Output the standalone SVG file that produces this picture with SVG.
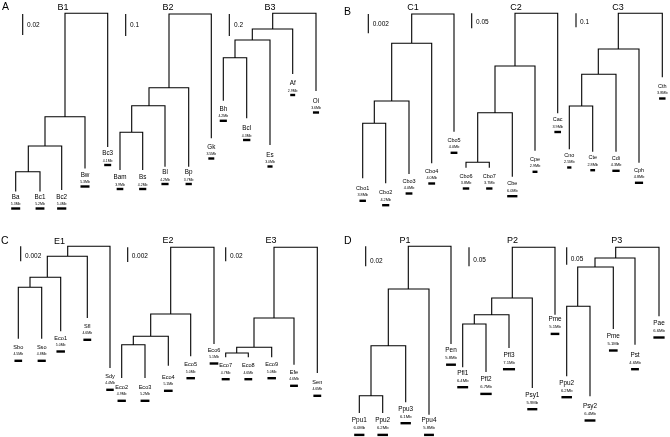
<svg xmlns="http://www.w3.org/2000/svg" width="670" height="437" viewBox="0 0 670 437">
<defs>
<filter id="gray" filterUnits="userSpaceOnUse" x="0" y="0" width="670" height="437" color-interpolation-filters="sRGB">
<feColorMatrix type="saturate" values="0"/>
</filter>
</defs>
<style>
text{font-family:"Liberation Sans",Arial,Helvetica,sans-serif;fill:#000}
.ln{fill:none;stroke:#000;stroke-width:1.1}
.sb{fill:none;stroke:#000;stroke-width:1.1}
.bar{fill:#000}
.pl{font-size:10.5px}
.tt{font-size:9px;text-anchor:middle}
.sl{font-size:6.5px}
.la{font-size:6.3px;text-anchor:middle}
.lb{font-size:5.5px;text-anchor:middle}
.lc{font-size:5.6px;text-anchor:middle}
.ld{font-size:6.4px;text-anchor:middle}
.sa{font-size:3.5px;text-anchor:middle}
.sbz{font-size:3.8px;text-anchor:middle}
.sc{font-size:3.5px;text-anchor:middle}
.sd{font-size:4.2px;text-anchor:middle}
</style>
<rect width="670" height="437" fill="#fff"/>
<g id="diagram" filter="url(#gray)">
<rect width="670" height="437" fill="#fff"/>
<g id="panel-labels">
<text class="pl" x="2" y="10">A</text>
<text class="pl" x="344" y="15">B</text>
<text class="pl" x="1" y="244">C</text>
<text class="pl" x="344" y="244">D</text>
</g>
<g id="titles">
<text class="tt" x="63" y="10">B1</text>
<text class="tt" x="168" y="10">B2</text>
<text class="tt" x="270" y="10">B3</text>
<text class="tt" x="413" y="10">C1</text>
<text class="tt" x="516" y="10">C2</text>
<text class="tt" x="618" y="10">C3</text>
<text class="tt" x="59.5" y="244">E1</text>
<text class="tt" x="168" y="243">E2</text>
<text class="tt" x="271" y="243">E3</text>
<text class="tt" x="405" y="243">P1</text>
<text class="tt" x="512.5" y="243">P2</text>
<text class="tt" x="616.7" y="243">P3</text>
</g>
<g id="scale-bars">
<path class="sb" d="M22.7,14V35M125.7,14V36M229.3,14V36M368.3,14V33.3M471.7,13.3V28.3M576,13.3V27.3M20.7,246.3V261.3M127.7,247.3V262M225.7,247.3V261.3M365.7,246.3V266.3M469,247.3V266.3M566.7,247.3V264.7"/>
<text class="sl" x="27" y="27">0.02</text>
<text class="sl" x="130" y="27">0.1</text>
<text class="sl" x="234" y="27">0.2</text>
<text class="sl" x="372.7" y="26">0.002</text>
<text class="sl" x="476" y="24">0.05</text>
<text class="sl" x="580" y="24">0.1</text>
<text class="sl" x="25" y="258">0.002</text>
<text class="sl" x="131.7" y="258">0.002</text>
<text class="sl" x="230" y="258">0.02</text>
<text class="sl" x="370" y="263">0.02</text>
<text class="sl" x="473.3" y="261.5">0.05</text>
<text class="sl" x="570.7" y="260.5">0.05</text>
</g>
<g id="connectors" class="ln">
<path d="M15.7,191.5V171.7H40V191.5M28.3,171.7V146H61.7V190M45,146V116.7H85V168.5M65,116.7V13.3H107.7V147"/>
<path d="M120,170V132.3H142.7V170M131.7,132.3V105.7H165V166.7M149,105.7V87.7H188.7V166.7M169,87.7V14H211.3V138.3"/>
<path d="M223.3,100.7V57.7H246.7V118.3M235,57.7V40H270V145M252.3,40V29H292.7V74M272.7,29V13.3H316V91"/>
<path d="M362.7,178.3V123.3H385.7V183.3M374.3,123.3V101H409V174M391.7,101V43.3H431.7V163.3M411.7,43.3V14H454V131.7"/>
<path d="M466,167.7V162.3H489.3V167.7M477.7,162.3V112.7H512.3V176.7M495,112.7V66H535V150.7M515,66V13.3H557.7V113.3"/>
<path d="M569.3,149.3V106H592.7V151.7M581.7,106V74.3H616V151.7M598.3,74.3V49H639V162.7M618.3,49V13.3H662.3V77.3"/>
<path d="M18.3,338.7V287.3H41.7V338.7M30,287.3V277.3H60.7V331.3M47.3,277.3V256.3H87.3V318M67.7,256.3V246.3H110V368"/>
<path d="M121.7,378V344.7H145V378M133.3,344.7V336.3H168.3V365.7M150.7,336.3V314H190.7V356.3M170.7,314V247.3H214V344"/>
<path d="M225.7,357.3V353H248.3V357.3M236.7,353V347.3H271.7V357.3M254,347.3V318H294V364.7M274,318V247.3H317.3V373"/>
<path d="M359.3,413V395.7H382.7V413M371,395.7V345.7H405.7V402.3M388.3,345.7V289H429V414.7M408.3,289V246.3H451V344"/>
<path d="M462.7,367.3V324H486V372M474.3,324V314.7H509V348M491.7,314.7V298H532.3V388M512.3,298V247.3H555V314.7"/>
<path d="M566.7,376.3V306.3H590V396.3M577.7,306.3V267H613.3V329M595,267V258H635V344.7M615.7,258V247.3H659V316.3"/>
</g>
<g id="B1-Ba"><text class="la" x="15.7" y="198.5">Ba</text><text class="sa" x="15.7" y="205">5.3Mb</text><rect class="bar" x="11.2" y="207.3" width="9" height="2.4"/></g>
<g id="B1-Bc1"><text class="la" x="40" y="198.5">Bc1</text><text class="sa" x="40" y="205">5.2Mb</text><rect class="bar" x="35.58" y="207.3" width="8.84" height="2.4"/></g>
<g id="B1-Bc2"><text class="la" x="61.7" y="198.5">Bc2</text><text class="sa" x="61.7" y="205">5.4Mb</text><rect class="bar" x="57.11" y="207.3" width="9.18" height="2.4"/></g>
<g id="B1-Bw"><text class="la" x="85" y="176.5">Bw</text><text class="sa" x="85" y="183">5.3Mb</text><rect class="bar" x="80.5" y="185.3" width="9" height="2.4"/></g>
<g id="B1-Bc3"><text class="la" x="107.7" y="155">Bc3</text><text class="sa" x="107.7" y="161.5">4.1Mb</text><rect class="bar" x="104.21" y="163.8" width="6.97" height="2.4"/></g>
<g id="B2-Bam"><text class="la" x="120" y="179">Bam</text><text class="sa" x="120" y="185.5">3.9Mb</text><rect class="bar" x="116.68" y="187.8" width="6.63" height="2.4"/></g>
<g id="B2-Bs"><text class="la" x="142.7" y="179">Bs</text><text class="sa" x="142.7" y="185.5">4.2Mb</text><rect class="bar" x="139.13" y="187.8" width="7.14" height="2.4"/></g>
<g id="B2-Bl"><text class="la" x="165" y="174">Bl</text><text class="sa" x="165" y="180.5">4.2Mb</text><rect class="bar" x="161.43" y="182.8" width="7.14" height="2.4"/></g>
<g id="B2-Bp"><text class="la" x="188.7" y="174">Bp</text><text class="sa" x="188.7" y="180.5">3.7Mb</text><rect class="bar" x="185.55" y="182.8" width="6.29" height="2.4"/></g>
<g id="B2-Gk"><text class="la" x="211.3" y="148.5">Gk</text><text class="sa" x="211.3" y="155">3.5Mb</text><rect class="bar" x="208.32" y="157.3" width="5.95" height="2.4"/></g>
<g id="B3-Bh"><text class="la" x="223.3" y="110.8">Bh</text><text class="sa" x="223.3" y="117.3">4.2Mb</text><rect class="bar" x="219.73" y="119.6" width="7.14" height="2.4"/></g>
<g id="B3-Bcl"><text class="la" x="246.7" y="130">Bcl</text><text class="sa" x="246.7" y="136.5">4.3Mb</text><rect class="bar" x="243.04" y="138.8" width="7.31" height="2.4"/></g>
<g id="B3-Es"><text class="la" x="270" y="156.5">Es</text><text class="sa" x="270" y="163">3.0Mb</text><rect class="bar" x="267.45" y="165.3" width="5.1" height="2.4"/></g>
<g id="B3-Af"><text class="la" x="292.7" y="85">Af</text><text class="sa" x="292.7" y="91.5">2.9Mb</text><rect class="bar" x="290.23" y="93.8" width="4.93" height="2.4"/></g>
<g id="B3-Oi"><text class="la" x="316" y="102.5">Oi</text><text class="sa" x="316" y="109">3.6Mb</text><rect class="bar" x="312.94" y="111.3" width="6.12" height="2.4"/></g>
<g id="C1-Cbo1"><text class="lb" x="362.7" y="189.8">Cbo1</text><text class="sbz" x="362.7" y="196.3">3.8Mb</text><rect class="bar" x="359.47" y="199.6" width="6.46" height="2.4"/></g>
<g id="C1-Cbo2"><text class="lb" x="385.7" y="194.2">Cbo2</text><text class="sbz" x="385.7" y="200.7">4.2Mb</text><rect class="bar" x="382.13" y="204" width="7.14" height="2.4"/></g>
<g id="C1-Cbo3"><text class="lb" x="409" y="182.5">Cbo3</text><text class="sbz" x="409" y="189">4.0Mb</text><rect class="bar" x="405.6" y="192.3" width="6.8" height="2.4"/></g>
<g id="C1-Cbo4"><text class="lb" x="431.7" y="172.5">Cbo4</text><text class="sbz" x="431.7" y="179">4.0Mb</text><rect class="bar" x="428.3" y="182.3" width="6.8" height="2.4"/></g>
<g id="C1-Cbo5"><text class="lb" x="454" y="141.8">Cbo5</text><text class="sbz" x="454" y="148.3">4.0Mb</text><rect class="bar" x="450.6" y="151.6" width="6.8" height="2.4"/></g>
<g id="C2-Cbo6"><text class="lb" x="466" y="177.5">Cbo6</text><text class="sbz" x="466" y="184">3.8Mb</text><rect class="bar" x="462.77" y="187.3" width="6.46" height="2.4"/></g>
<g id="C2-Cbo7"><text class="lb" x="489.3" y="177.5">Cbo7</text><text class="sbz" x="489.3" y="184">3.7Mb</text><rect class="bar" x="486.15" y="187.3" width="6.29" height="2.4"/></g>
<g id="C2-Cbe"><text class="lb" x="512.3" y="185.2">Cbe</text><text class="sbz" x="512.3" y="191.7">6.0Mb</text><rect class="bar" x="507.2" y="195" width="10.2" height="2.4"/></g>
<g id="C2-Cpe"><text class="lb" x="535" y="160.8">Cpe</text><text class="sbz" x="535" y="167.3">2.9Mb</text><rect class="bar" x="532.53" y="170.6" width="4.93" height="2.4"/></g>
<g id="C2-Cac"><text class="lb" x="557.7" y="121">Cac</text><text class="sbz" x="557.7" y="127.5">3.9Mb</text><rect class="bar" x="554.38" y="130.8" width="6.63" height="2.4"/></g>
<g id="C3-Cno"><text class="lb" x="569.3" y="156.5">Cno</text><text class="sbz" x="569.3" y="163">2.5Mb</text><rect class="bar" x="567.17" y="166.3" width="4.25" height="2.4"/></g>
<g id="C3-Cte"><text class="lb" x="592.7" y="159.2">Cte</text><text class="sbz" x="592.7" y="165.7">2.8Mb</text><rect class="bar" x="590.32" y="169" width="4.76" height="2.4"/></g>
<g id="C3-Cdi"><text class="lb" x="616" y="159.8">Cdi</text><text class="sbz" x="616" y="166.3">4.3Mb</text><rect class="bar" x="612.34" y="169.6" width="7.31" height="2.4"/></g>
<g id="C3-Cph"><text class="lb" x="639" y="171.8">Cph</text><text class="sbz" x="639" y="178.3">4.8Mb</text><rect class="bar" x="634.92" y="181.6" width="8.16" height="2.4"/></g>
<g id="C3-Cth"><text class="lb" x="662.3" y="87.5">Cth</text><text class="sbz" x="662.3" y="94">3.8Mb</text><rect class="bar" x="659.07" y="97.3" width="6.46" height="2.4"/></g>
<g id="E1-Sbo"><text class="lc" x="18.3" y="348.8">Sbo</text><text class="sc" x="18.3" y="355.3">4.5Mb</text><rect class="bar" x="14.47" y="359.6" width="7.65" height="2.4"/></g>
<g id="E1-Sso"><text class="lc" x="41.7" y="348.8">Sso</text><text class="sc" x="41.7" y="355.3">4.8Mb</text><rect class="bar" x="37.62" y="359.6" width="8.16" height="2.4"/></g>
<g id="E1-Eco1"><text class="lc" x="60.7" y="339.5">Eco1</text><text class="sc" x="60.7" y="346">5.0Mb</text><rect class="bar" x="56.45" y="350.3" width="8.5" height="2.4"/></g>
<g id="E1-Sfl"><text class="lc" x="87.3" y="327.8">Sfl</text><text class="sc" x="87.3" y="334.3">4.6Mb</text><rect class="bar" x="83.39" y="338.6" width="7.82" height="2.4"/></g>
<g id="E1-Sdy"><text class="lc" x="110" y="377.8">Sdy</text><text class="sc" x="110" y="384.3">4.4Mb</text><rect class="bar" x="106.26" y="388.6" width="7.48" height="2.4"/></g>
<g id="E2-Eco2"><text class="lc" x="121.7" y="388.8">Eco2</text><text class="sc" x="121.7" y="395.3">4.9Mb</text><rect class="bar" x="117.53" y="399.6" width="8.33" height="2.4"/></g>
<g id="E2-Eco3"><text class="lc" x="145" y="388.8">Eco3</text><text class="sc" x="145" y="395.3">5.2Mb</text><rect class="bar" x="140.58" y="399.6" width="8.84" height="2.4"/></g>
<g id="E2-Eco4"><text class="lc" x="168.3" y="378.8">Eco4</text><text class="sc" x="168.3" y="385.3">5.1Mb</text><rect class="bar" x="163.96" y="389.6" width="8.67" height="2.4"/></g>
<g id="E2-Eco5"><text class="lc" x="190.7" y="366.2">Eco5</text><text class="sc" x="190.7" y="372.7">5.0Mb</text><rect class="bar" x="186.45" y="377" width="8.5" height="2.4"/></g>
<g id="E2-Eco6"><text class="lc" x="214" y="351.5">Eco6</text><text class="sc" x="214" y="358">5.1Mb</text><rect class="bar" x="209.66" y="362.3" width="8.67" height="2.4"/></g>
<g id="E3-Eco7"><text class="lc" x="225.7" y="367.2">Eco7</text><text class="sc" x="225.7" y="373.7">4.7Mb</text><rect class="bar" x="221.7" y="378" width="7.99" height="2.4"/></g>
<g id="E3-Eco8"><text class="lc" x="248.3" y="367.2">Eco8</text><text class="sc" x="248.3" y="373.7">4.6Mb</text><rect class="bar" x="244.39" y="378" width="7.82" height="2.4"/></g>
<g id="E3-Eco9"><text class="lc" x="271.7" y="366.2">Eco9</text><text class="sc" x="271.7" y="372.7">5.0Mb</text><rect class="bar" x="267.45" y="377" width="8.5" height="2.4"/></g>
<g id="E3-Efe"><text class="lc" x="294" y="373.8">Efe</text><text class="sc" x="294" y="380.3">4.6Mb</text><rect class="bar" x="290.09" y="384.6" width="7.82" height="2.4"/></g>
<g id="E3-Sen"><text class="lc" x="317.3" y="383.8">Sen</text><text class="sc" x="317.3" y="390.3">4.6Mb</text><rect class="bar" x="313.39" y="394.6" width="7.82" height="2.4"/></g>
<g id="P1-Ppu1"><text class="ld" x="359.3" y="422.2">Ppu1</text><text class="sd" x="359.3" y="429.2">6.0Mb</text><rect class="bar" x="354.2" y="433.7" width="10.2" height="2.4"/></g>
<g id="P1-Ppu2"><text class="ld" x="382.7" y="422.2">Ppu2</text><text class="sd" x="382.7" y="429.2">6.2Mb</text><rect class="bar" x="377.43" y="433.7" width="10.54" height="2.4"/></g>
<g id="P1-Ppu3"><text class="ld" x="405.7" y="410.5">Ppu3</text><text class="sd" x="405.7" y="417.5">6.1Mb</text><rect class="bar" x="400.51" y="422" width="10.37" height="2.4"/></g>
<g id="P1-Ppu4"><text class="ld" x="429" y="422.2">Ppu4</text><text class="sd" x="429" y="429.2">5.8Mb</text><rect class="bar" x="424.07" y="433.7" width="9.86" height="2.4"/></g>
<g id="P1-Pen"><text class="ld" x="451" y="352">Pen</text><text class="sd" x="451" y="359">5.8Mb</text><rect class="bar" x="446.07" y="363.5" width="9.86" height="2.4"/></g>
<g id="P2-Pfl1"><text class="ld" x="462.7" y="374.5">Pfl1</text><text class="sd" x="462.7" y="381.5">6.4Mb</text><rect class="bar" x="457.26" y="386" width="10.88" height="2.4"/></g>
<g id="P2-Pfl2"><text class="ld" x="486" y="381.2">Pfl2</text><text class="sd" x="486" y="388.2">6.7Mb</text><rect class="bar" x="480.3" y="392.7" width="11.39" height="2.4"/></g>
<g id="P2-Pfl3"><text class="ld" x="509" y="356.5">Pfl3</text><text class="sd" x="509" y="363.5">7.1Mb</text><rect class="bar" x="502.96" y="368" width="12.07" height="2.4"/></g>
<g id="P2-Psy1"><text class="ld" x="532.3" y="396.5">Psy1</text><text class="sd" x="532.3" y="403.5">5.9Mb</text><rect class="bar" x="527.28" y="408" width="10.03" height="2.4"/></g>
<g id="P2-Pme"><text class="ld" x="555" y="321.2">Pme</text><text class="sd" x="555" y="328.2">5.1Mb</text><rect class="bar" x="550.66" y="332.7" width="8.67" height="2.4"/></g>
<g id="P3-Ppu2"><text class="ld" x="566.7" y="384.5">Ppu2</text><text class="sd" x="566.7" y="391.5">6.2Mb</text><rect class="bar" x="561.43" y="396" width="10.54" height="2.4"/></g>
<g id="P3-Psy2"><text class="ld" x="590" y="407.8">Psy2</text><text class="sd" x="590" y="414.8">6.4Mb</text><rect class="bar" x="584.56" y="419.3" width="10.88" height="2.4"/></g>
<g id="P3-Pme"><text class="ld" x="613.3" y="337.8">Pme</text><text class="sd" x="613.3" y="344.8">5.1Mb</text><rect class="bar" x="608.96" y="349.3" width="8.67" height="2.4"/></g>
<g id="P3-Pst"><text class="ld" x="635" y="356.5">Pst</text><text class="sd" x="635" y="363.5">4.6Mb</text><rect class="bar" x="631.09" y="368" width="7.82" height="2.4"/></g>
<g id="P3-Pae"><text class="ld" x="659" y="324.8">Pae</text><text class="sd" x="659" y="331.8">6.6Mb</text><rect class="bar" x="653.39" y="336.3" width="11.22" height="2.4"/></g>
</g>
</svg>
